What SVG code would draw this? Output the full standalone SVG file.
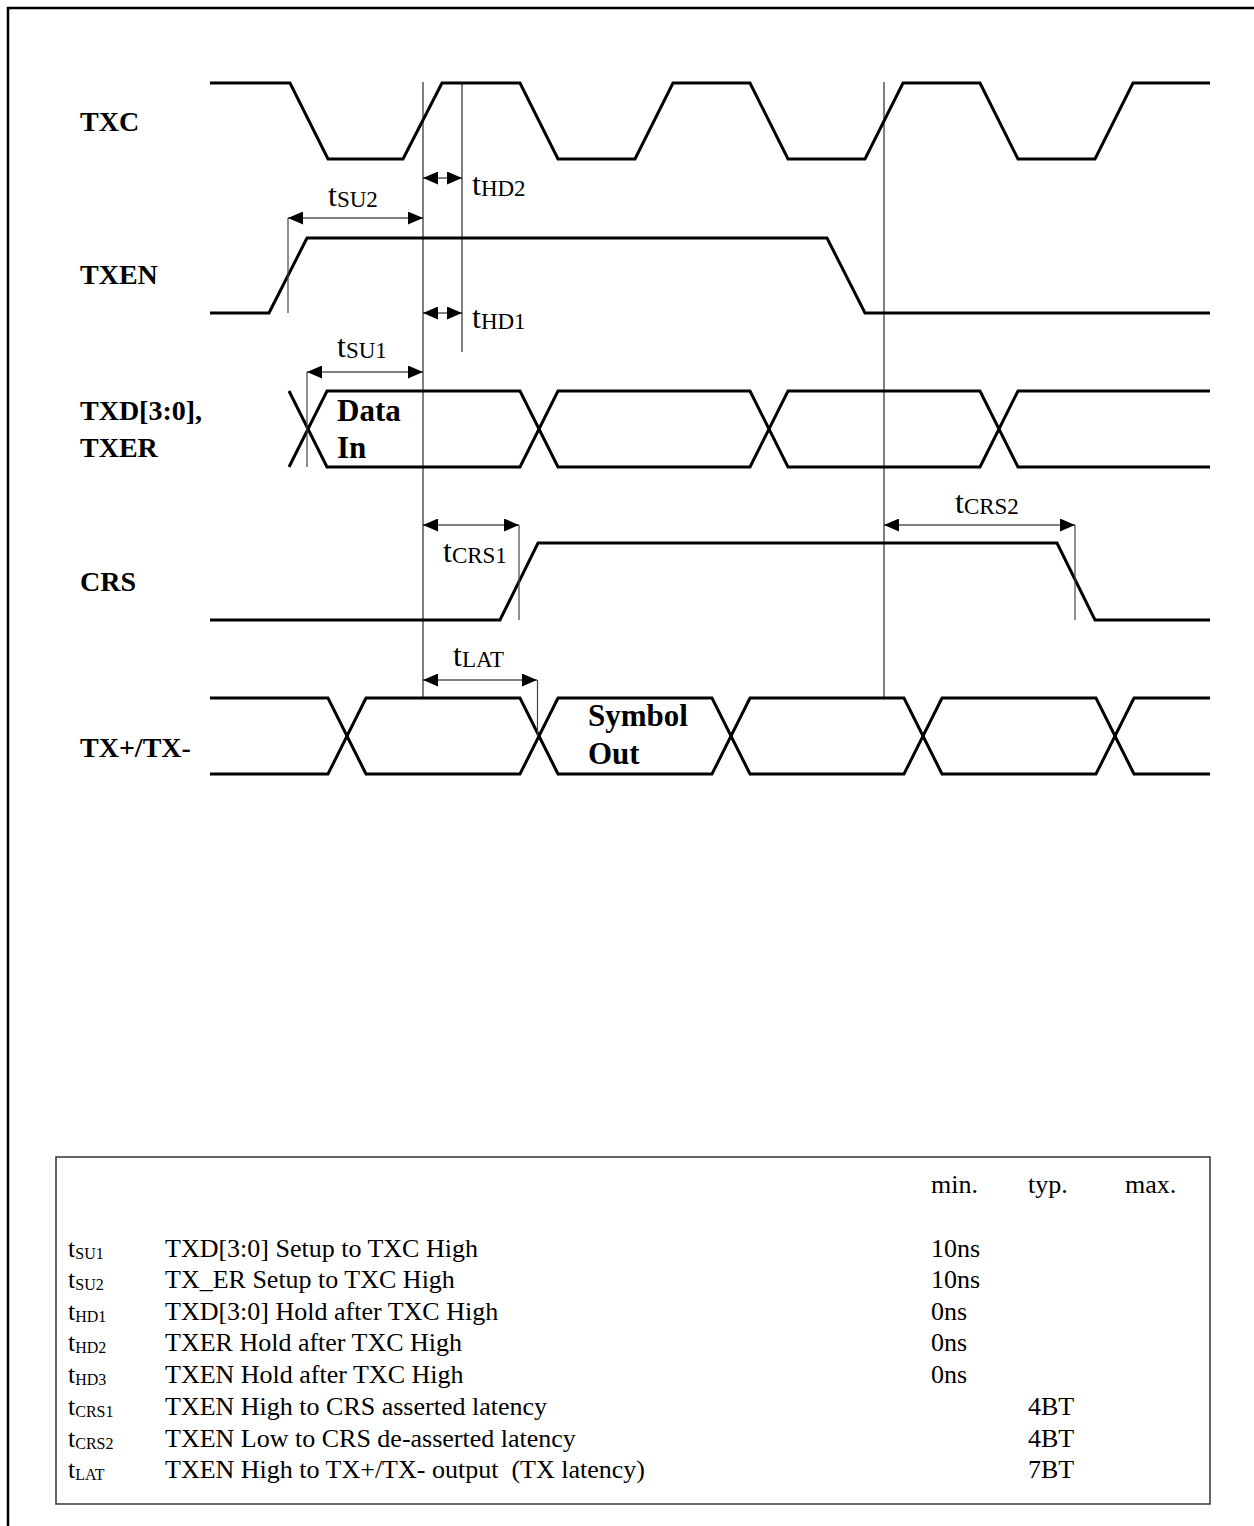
<svg xmlns="http://www.w3.org/2000/svg" width="1254" height="1526" viewBox="0 0 1254 1526">
<style>
.wave{fill:none;stroke:#000;stroke-width:3;stroke-linejoin:miter}
.ref{stroke:#000;stroke-width:1;fill:none}
.tick{stroke:#444;stroke-width:1.2;fill:none}
.dim{stroke:#000;stroke-width:1;fill:none;marker-start:url(#ah);marker-end:url(#ah)}
.sig{font-family:"Liberation Serif","Times New Roman",serif;font-weight:bold;font-size:28px;fill:#000}
.inl{font-family:"Liberation Serif","Times New Roman",serif;font-weight:bold;font-size:31px;fill:#000}
.tl{font-family:"Liberation Serif","Times New Roman",serif;font-size:32px;fill:#000}
.sub{font-size:23px}
.tb{font-family:"Liberation Serif","Times New Roman",serif;font-size:26px;fill:#000}
.tbs{font-size:16px}
</style>
<defs>
<marker id="ah" markerUnits="userSpaceOnUse" markerWidth="15" markerHeight="13" refX="15" refY="6.5" orient="auto-start-reverse">
<path d="M0,0 L15,6.5 L0,13 z" fill="#000"/>
</marker>
</defs>
<rect width="1254" height="1526" fill="#fff"/>
<path d="M8,1526 V8 H1254" fill="none" stroke="#000" stroke-width="2.5"/>

<g id="labels">
<text class="sig" x="80" y="131">TXC</text>
<text class="sig" x="80" y="284">TXEN</text>
<text class="sig" x="80" y="420">TXD[3:0],</text>
<text class="sig" x="80" y="457">TXER</text>
<text class="sig" x="80" y="591">CRS</text>
<text class="sig" x="80" y="757">TX+/TX-</text>
</g>

<g id="TXC"><path class="wave" d="M210,83 H290 L328,159 H403 L442,83 H520 L558,159 H635 L673,83 H750 L788,159 H865 L903,83 H980 L1018,159 H1095 L1133,83 H1210"/></g>
<g id="TXEN"><path class="wave" d="M210,313 H269 L307,238 H827 L865,313 H1210"/></g>
<g id="TXD">
<path class="wave" d="M289,391 L327,467 H520 L558,391 H750 L788,467 H980 L1018,391 H1210"/>
<path class="wave" d="M289,467 L327,391 H520 L558,467 H750 L788,391 H980 L1018,467 H1210"/>
<text class="inl" x="337" y="421">Data</text>
<text class="inl" x="337" y="458">In</text>
</g>
<g id="CRS"><path class="wave" d="M210,620 H500 L538,543 H1057 L1095,620 H1210"/></g>
<g id="TX">
<path class="wave" d="M210,698 H328 L366,774 H520 L558,698 H712 L750,774 H904 L942,698 H1096 L1134,774 H1210"/>
<path class="wave" d="M210,774 H328 L366,698 H520 L558,774 H712 L750,698 H904 L942,774 H1096 L1134,698 H1210"/>
<text class="inl" x="588" y="726">Symbol</text>
<text class="inl" x="588" y="764">Out</text>
</g>

<g id="connectors">
<line class="ref" x1="423" y1="82" x2="423" y2="697"/>
<line class="ref" x1="462" y1="82" x2="462" y2="352"/>
<line class="ref" x1="884" y1="82" x2="884" y2="697"/>
<line class="tick" x1="288" y1="218" x2="288" y2="313"/>
<line class="tick" x1="307" y1="372" x2="307" y2="467"/>
<line class="tick" x1="519" y1="525" x2="519" y2="620"/>
<line class="tick" x1="537.5" y1="680" x2="537.5" y2="736"/>
<line class="tick" x1="1075" y1="525" x2="1075" y2="620"/>
<line class="dim" x1="288" y1="218" x2="423" y2="218"/>
<line class="dim" x1="423" y1="178" x2="462" y2="178"/>
<line class="dim" x1="423" y1="313" x2="462" y2="313"/>
<line class="dim" x1="307" y1="372" x2="423" y2="372"/>
<line class="dim" x1="423" y1="525" x2="519" y2="525"/>
<line class="dim" x1="423" y1="680" x2="537" y2="680"/>
<line class="dim" x1="884" y1="525" x2="1075" y2="525"/>
</g>

<g id="timing-labels">
<text class="tl" x="328" y="206">t<tspan class="sub" dy="1">SU2</tspan></text>
<text class="tl" x="472" y="195">t<tspan class="sub" dy="1">HD2</tspan></text>
<text class="tl" x="472" y="328">t<tspan class="sub" dy="1">HD1</tspan></text>
<text class="tl" x="337" y="357">t<tspan class="sub" dy="1">SU1</tspan></text>
<text class="tl" x="443" y="562">t<tspan class="sub" dy="1">CRS1</tspan></text>
<text class="tl" x="453" y="666">t<tspan class="sub" dy="1">LAT</tspan></text>
<text class="tl" x="955" y="513">t<tspan class="sub" dy="1">CRS2</tspan></text>
</g>

<g id="table">
<rect x="56" y="1157" width="1154" height="347" fill="none" stroke="#333" stroke-width="1.5"/>
<text class="tb" x="931" y="1193">min.</text>
<text class="tb" x="1028" y="1193">typ.</text>
<text class="tb" x="1125" y="1193">max.</text>

<text class="tb" x="68" y="1257">t<tspan class="tbs" dy="2">SU1</tspan></text>
<text class="tb" x="165" y="1257">TXD[3:0] Setup to TXC High</text>
<text class="tb" x="931" y="1257">10ns</text>

<text class="tb" x="68" y="1288">t<tspan class="tbs" dy="2">SU2</tspan></text>
<text class="tb" x="165" y="1288">TX_ER Setup to TXC High</text>
<text class="tb" x="931" y="1288">10ns</text>

<text class="tb" x="68" y="1320">t<tspan class="tbs" dy="2">HD1</tspan></text>
<text class="tb" x="165" y="1320">TXD[3:0] Hold after TXC High</text>
<text class="tb" x="931" y="1320">0ns</text>

<text class="tb" x="68" y="1351">t<tspan class="tbs" dy="2">HD2</tspan></text>
<text class="tb" x="165" y="1351">TXER Hold after TXC High</text>
<text class="tb" x="931" y="1351">0ns</text>

<text class="tb" x="68" y="1383">t<tspan class="tbs" dy="2">HD3</tspan></text>
<text class="tb" x="165" y="1383">TXEN Hold after TXC High</text>
<text class="tb" x="931" y="1383">0ns</text>

<text class="tb" x="68" y="1415">t<tspan class="tbs" dy="2">CRS1</tspan></text>
<text class="tb" x="165" y="1415">TXEN High to CRS asserted latency</text>
<text class="tb" x="1028" y="1415">4BT</text>

<text class="tb" x="68" y="1447">t<tspan class="tbs" dy="2">CRS2</tspan></text>
<text class="tb" x="165" y="1447">TXEN Low to CRS de-asserted latency</text>
<text class="tb" x="1028" y="1447">4BT</text>

<text class="tb" x="68" y="1478">t<tspan class="tbs" dy="2">LAT</tspan></text>
<text class="tb" x="165" y="1478">TXEN High to TX+/TX- output&#160; (TX latency)</text>
<text class="tb" x="1028" y="1478">7BT</text>
</g>
</svg>
